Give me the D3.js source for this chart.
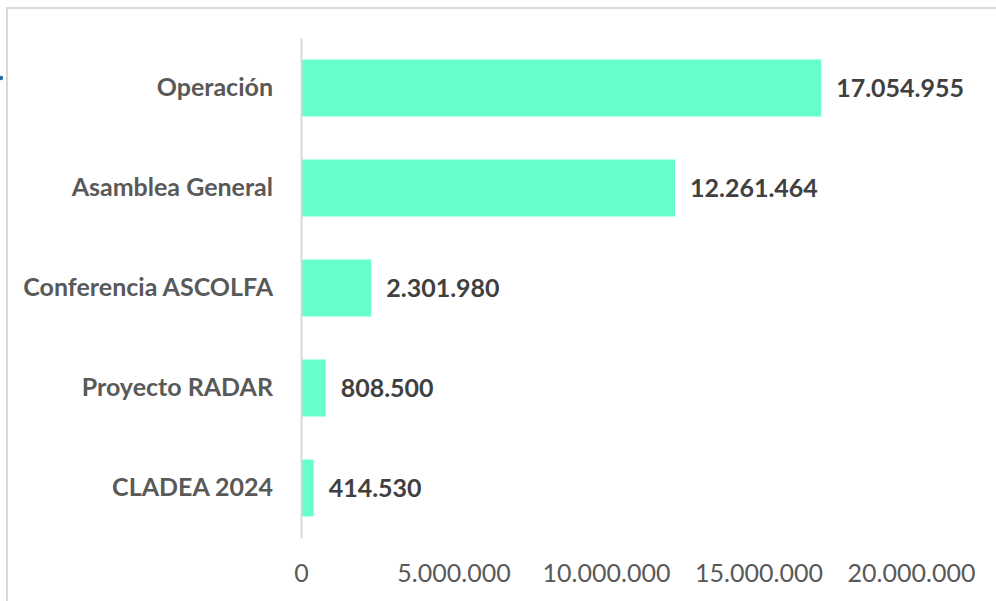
<!DOCTYPE html>
<html>
<head>
<meta charset="utf-8">
<script src="https://cdn.jsdelivr.net/npm/d3@7"></script>
<style>
  body { margin: 0; background: #fff; }
  svg { display: block; font-family: Lato, sans-serif; }
</style>
</head>
<body>
<svg></svg>
<script>
let categories = ['Operación', 'Asamblea General', 'Conferencia ASCOLFA', 'Proyecto RADAR', 'CLADEA 2024']
let values = [17054955, 12261464, 2301980, 808500, 414530]
let tickValues = [0, 5000000, 10000000, 15000000, 20000000]

let width = 996
let height = 601

let svg = d3.select('svg')
            .attr('width', width)
            .attr('height', height)

let fmt = (n) => d3.format(',')(n).replace(/,/g, '.')

// frame lines (left + top)
svg.append('line')
   .attr('x1', 7).attr('x2', 7).attr('y1', 7).attr('y2', height)
   .attr('stroke', '#d9d9d9').attr('stroke-width', 2)
svg.append('line')
   .attr('x1', 7).attr('x2', width).attr('y1', 8).attr('y2', 8)
   .attr('stroke', '#d9d9d9').attr('stroke-width', 2)
svg.append('circle')
   .attr('cx', 1).attr('cy', 78).attr('r', 2.2)
   .attr('fill', '#1f6fb0')

let xScale = d3.scaleLinear()
               .domain([0, 20000000])
               .range([301, 911])

let yScale = d3.scaleBand()
               .domain(categories)
               .range([38, 538])
               .paddingInner(0.43)
               .paddingOuter(0.215)

let data = categories.map((c, i) => ({ name: c, value: values[i] }))

svg.selectAll('rect.bar')
   .data(data)
   .enter()
   .append('rect')
   .attr('class', 'bar')
   .attr('x', xScale(0) + 1)
   .attr('y', (d) => yScale(d.name))
   .attr('width', (d) => xScale(d.value) - xScale(0) - 1)
   .attr('height', yScale.bandwidth())
   .attr('fill', '#66ffcc')

// category axis
let yAxis = d3.axisLeft(yScale).tickSize(0).tickPadding(28)
let gy = svg.append('g')
            .attr('transform', 'translate(' + xScale(0) + ', 0)')
            .call(yAxis)
gy.select('.domain').attr('stroke', '#d9d9d9').attr('stroke-width', 2)
gy.selectAll('text')
  .attr('fill', '#595959')
  .attr('font-size', 25)
  .attr('font-weight', 'bold')
  .attr('font-family', 'Lato, sans-serif')

// value axis (labels only)
let xAxis = d3.axisBottom(xScale).tickValues(tickValues).tickSize(0).tickFormat(fmt)
let gx = svg.append('g')
            .attr('transform', 'translate(0, 561)')
            .call(xAxis)
gx.select('.domain').remove()
gx.selectAll('text')
  .attr('fill', '#595959')
  .attr('font-size', 25)
  .attr('font-family', 'Lato, sans-serif')

// data labels
svg.selectAll('text.val')
   .data(data)
   .enter()
   .append('text')
   .attr('class', 'val')
   .attr('x', (d) => xScale(d.value) + 15)
   .attr('y', (d) => yScale(d.name) + yScale.bandwidth() / 2)
   .attr('dy', '0.35em')
   .attr('fill', '#404040')
   .attr('font-size', 25)
   .attr('font-weight', 'bold')
   .text((d) => fmt(d.value))
</script>
</body>
</html>
